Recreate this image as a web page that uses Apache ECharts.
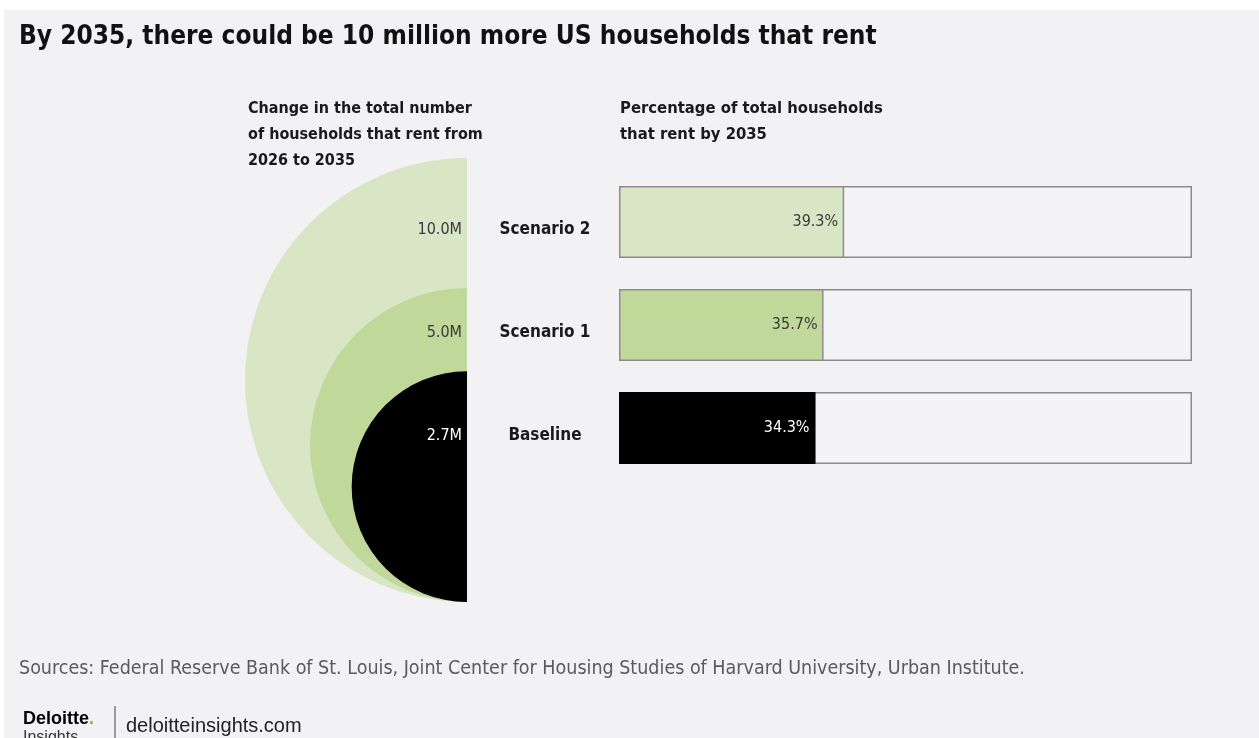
<!DOCTYPE html>
<html>
<head>
<meta charset="utf-8">
<title>US households that rent by 2035</title>
<script src="https://cdn.jsdelivr.net/npm/echarts@6/dist/echarts.min.js"></script>
<style>
  html, body { margin: 0; padding: 0; background: #ffffff; }
  #chart { width: 1259px; height: 738px; }
</style>
</head>
<body>
<div id="chart"></div>
<script>
// Scenario data
const scenarios = ['Scenario 2', 'Scenario 1', 'Baseline'];
const householdChangeM = [10.0, 5.0, 2.7];      // change in renter households 2026-2035, millions
const rentSharePct = [39.3, 35.7, 34.3];        // share of households renting by 2035, %
const scenarioColors = ['#d8e6c6', '#c0d99b', '#000000'];
const valueLabelColors = ['#3a3a3a', '#3a3a3a', '#ffffff'];

const NARROW = "'Liberation Sans Narrow', 'DejaVu Sans Condensed', 'Roboto', sans-serif";
const REGULAR = "'Liberation Sans', 'Open Sans', sans-serif";

const maxRoot = Math.sqrt(Math.max.apply(null, householdChangeM));

const chart = echarts.init(document.getElementById('chart'), null, { renderer: 'canvas' });

chart.setOption({
  backgroundColor: '#f2f2f4',
  animation: false,
  title: [
    {
      text: 'By 2035, there could be 10 million more US households that rent',
      left: 14, top: 17,
      textStyle: { fontFamily: NARROW, fontWeight: 'bold', fontSize: 26, lineHeight: 30, color: '#111' }
    },
    {
      text: 'Change in the total number\nof households that rent from\n2026 to 2035',
      left: 243, top: 91,
      textStyle: { fontFamily: NARROW, fontWeight: 'bold', fontSize: 16, lineHeight: 26, color: '#1a1a1a' }
    },
    {
      text: 'Percentage of total households\nthat rent by 2035',
      left: 615, top: 91,
      textStyle: { fontFamily: NARROW, fontWeight: 'bold', fontSize: 16.5, lineHeight: 26, color: '#1a1a1a' }
    },
    {
      text: 'Sources: Federal Reserve Bank of St. Louis, Joint Center for Housing Studies of Harvard University, Urban Institute.',
      left: 14, top: 652,
      textStyle: { fontFamily: NARROW, fontWeight: 'normal', fontSize: 19.5, lineHeight: 24, color: '#5a5a5a' }
    },
    {
      text: '{d|Deloitte}{g|.}\n{i|Insights}',
      left: 18, top: 704,
      textStyle: {
        rich: {
          d: { fontFamily: REGULAR, fontWeight: 'bold', fontSize: 18, lineHeight: 20, color: '#000' },
          g: { fontFamily: REGULAR, fontWeight: 'bold', fontSize: 18, lineHeight: 20, color: '#86bc25' },
          i: { fontFamily: REGULAR, fontWeight: 'normal', fontSize: 16, lineHeight: 18, color: '#333' }
        }
      }
    },
    {
      text: 'deloitteinsights.com',
      left: 121, top: 709,
      textStyle: { fontFamily: REGULAR, fontWeight: 'normal', fontSize: 20, lineHeight: 24, color: '#222' }
    }
  ],
  graphic: [
    { type: 'rect', left: 0, top: 0, shape: { width: 1259, height: 10 }, style: { fill: '#ffffff' }, silent: true },
    { type: 'rect', left: 0, top: 0, shape: { width: 4, height: 738 }, style: { fill: '#ffffff' }, silent: true },
    { type: 'line', shape: { x1: 115, y1: 706, x2: 115, y2: 738 }, style: { stroke: '#444', lineWidth: 1 }, silent: true }
  ],
  grid: [
    // bars
    { left: 619, top: 170.5, width: 573, height: 309, containLabel: false },
    // half circles
    { left: 245, top: 158, width: 222, height: 444, containLabel: false }
  ],
  xAxis: [
    { gridIndex: 0, type: 'value', min: 0, max: 100, show: false },
    { gridIndex: 1, type: 'value', min: -maxRoot, max: 0, show: false }
  ],
  yAxis: [
    {
      gridIndex: 0, type: 'category', data: scenarios, inverse: true, z: 5,
      axisLine: { show: false }, axisTick: { show: false }, splitLine: { show: false },
      axisLabel: {
        margin: 74, align: 'center', verticalAlign: 'top', lineHeight: 16,
        fontFamily: NARROW, fontWeight: 'bold', fontSize: 17, color: '#1a1a1a'
      }
    },
    {
      gridIndex: 0, type: 'category', inverse: true, position: 'left', z: 5,
      data: householdChangeM.map(v => v.toFixed(1) + 'M'),
      axisLine: { show: false }, axisTick: { show: false }, splitLine: { show: false },
      axisLabel: {
        margin: 157, align: 'right', verticalAlign: 'top', lineHeight: 16,
        fontFamily: NARROW, fontWeight: 'normal', fontSize: 16,
        color: (v, i) => valueLabelColors[i]
      }
    },
    { gridIndex: 1, type: 'value', min: 0, max: 2 * maxRoot, show: false }
  ],
  series: [
    {
      // full-width track behind each bar
      type: 'bar', xAxisIndex: 0, yAxisIndex: 0, silent: true,
      barWidth: 72, barGap: '-100%',
      data: scenarios.map(() => 100),
      itemStyle: { color: '#f4f4f6', borderColor: '#8c8c8c', borderWidth: 1.5 },
      z: 2
    },
    {
      type: 'bar', xAxisIndex: 0, yAxisIndex: 0,
      barWidth: 72, barGap: '-100%',
      data: rentSharePct.map((v, i) => ({
        value: v,
        itemStyle: { color: scenarioColors[i], borderColor: i === 2 ? '#000' : '#8c8c8c', borderWidth: 1.5 },
        label: { color: valueLabelColors[i] }
      })),
      label: {
        show: true, position: 'insideRight', distance: 6,
        fontFamily: NARROW, fontSize: 16,
        formatter: p => p.value.toFixed(1) + '%'
      },
      z: 3
    },
    {
      // left halves of circles whose area follows the household change
      type: 'custom', xAxisIndex: 1, yAxisIndex: 2, clip: false,
      data: householdChangeM.map((v, i) => [v, i]),
      encode: { x: -1, y: -1 },
      renderItem: (params, api) => {
        const root = Math.sqrt(api.value(0));
        const c = api.coord([0, root]);
        const r = api.size([root, 0])[0];
        return {
          type: 'sector',
          shape: { cx: c[0], cy: c[1], r0: 0, r: r, startAngle: Math.PI / 2, endAngle: Math.PI * 3 / 2, clockwise: true },
          style: { fill: scenarioColors[params.dataIndex] }
        };
      },
      z: 1
    }
  ]
});
</script>
</body>
</html>
